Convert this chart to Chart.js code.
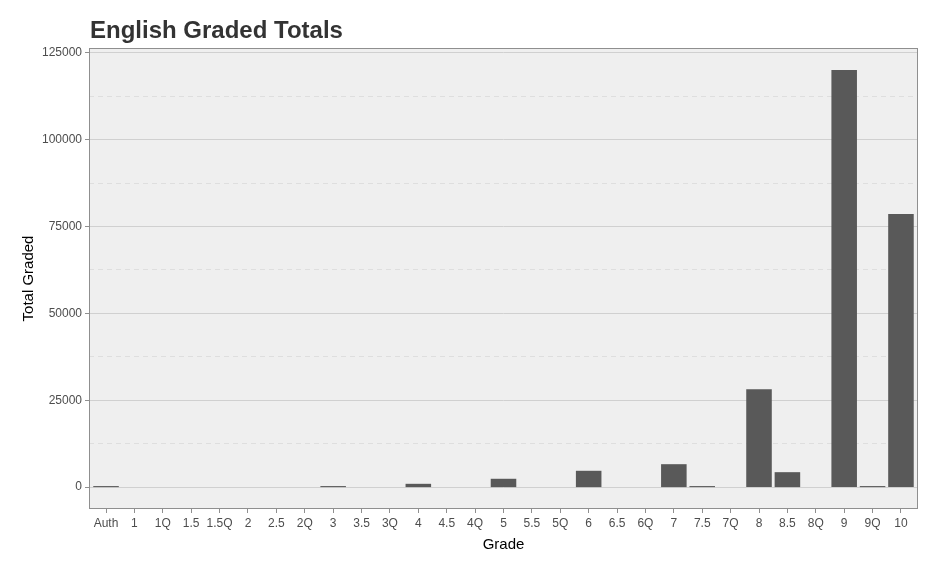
<!DOCTYPE html>
<html>
<head>
<meta charset="utf-8">
<script src="https://cdn.jsdelivr.net/npm/chart.js@4/dist/chart.umd.min.js"></script>
<style>
    html, body { margin: 0; padding: 0; background: #fff; }
    #wrap { width: 938px; height: 567px; }
</style>
</head>
<body>
<div id="wrap"><canvas id="gradeChart"></canvas></div>
<script>
const grades = ['Auth', '1', '1Q', '1.5', '1.5Q', '2', '2.5', '2Q', '3', '3.5', '3Q', '4', '4.5', '4Q',
    '5', '5.5', '5Q', '6', '6.5', '6Q', '7', '7.5', '7Q', '8', '8.5', '8Q', '9', '9Q', '10'];
const totals = [300, 0, 0, 0, 0, 0, 0, 0, 300, 0, 0, 950, 0, 0,
    2400, 0, 0, 4700, 0, 0, 6600, 300, 0, 28200, 4300, 0, 120100, 300, 78600];
const yTicks = [0, 25000, 50000, 75000, 100000, 125000];
const yMinorTicks = [12500, 37500, 62500, 87500, 112500];
const yMin = -6300;
const yMax = 126400;

Chart.defaults.font.family = '"Liberation Sans", Arial, sans-serif';

// panel background + border, and title aligned with the panel
const panelPlugin = {
    id: 'panel',
    beforeDraw(chart) {
        const { ctx, chartArea: a } = chart;
        ctx.save();
        ctx.fillStyle = '#efefef';
        ctx.fillRect(a.left, a.top, a.right - a.left, a.bottom - a.top);
        ctx.restore();
    },
    afterDraw(chart) {
        const { ctx, chartArea: a } = chart;
        ctx.save();
        ctx.strokeStyle = '#8f8f8f';
        ctx.lineWidth = 1;
        ctx.strokeRect(a.left + 0.5, a.top + 0.5, a.right - a.left - 1, a.bottom - a.top - 1);
        ctx.fillStyle = '#333333';
        ctx.font = 'bold 24px "Liberation Sans", Arial, sans-serif';
        ctx.textBaseline = 'alphabetic';
        ctx.fillText('English Graded Totals', a.left + 1, 38);
        ctx.restore();
    }
};

new Chart(document.getElementById('gradeChart'), {
    type: 'bar',
    data: {
        datasets: [{
            data: totals.map((v, i) => ({ x: i, y: v })),
            backgroundColor: '#595959',
            barPercentage: 0.9,
            categoryPercentage: 1.0
        }]
    },
    options: {
        responsive: true,
        maintainAspectRatio: false,
        animation: false,
        layout: { padding: { top: 48, right: 20, left: 0, bottom: 0 } },
        plugins: {
            legend: { display: false },
            tooltip: { enabled: false }
        },
        scales: {
            x: {
                type: 'linear',
                offset: false,
                min: -0.6,
                max: grades.length - 0.4,
                grid: {
                    display: true,
                    offset: false,
                    drawOnChartArea: false,
                    tickLength: 4,
                    tickColor: '#8f8f8f'
                },
                border: { display: false },
                afterBuildTicks(scale) { scale.ticks = grades.map((g, i) => ({ value: i })); },
                ticks: {
                    color: '#4d4d4d', font: { size: 12 }, padding: 3, maxRotation: 0, autoSkip: false,
                    callback: (v) => grades[v]
                },
                title: { display: true, text: 'Grade', color: '#000', font: { size: 15 }, padding: { top: 0, bottom: 13 } },
                afterFit(scale) { scale.height = 58; }
            },
            yMinor: {
                position: 'left',
                min: yMin,
                max: yMax,
                grid: { color: '#dedede', tickLength: 0, drawTicks: false },
                border: { display: false, dash: [5, 4] },
                ticks: { display: false },
                afterBuildTicks(scale) { scale.ticks = yMinorTicks.map(v => ({ value: v })); },
                afterFit(scale) { scale.width = 0; }
            },
            y: {
                position: 'left',
                min: yMin,
                max: yMax,
                grid: { color: '#d0d0d0', tickLength: 4, tickColor: '#8f8f8f' },
                border: { display: false },
                ticks: { color: '#4d4d4d', font: { size: 12 }, padding: 3, callback: (v) => String(v) },
                afterBuildTicks(scale) { scale.ticks = yTicks.map(v => ({ value: v })); },
                title: { display: true, text: 'Total Graded', color: '#000', font: { size: 15 }, padding: { top: 20, bottom: 0 } },
                afterFit(scale) { scale.width = 89; }
            }
        }
    },
    plugins: [panelPlugin]
});
</script>
</body>
</html>
